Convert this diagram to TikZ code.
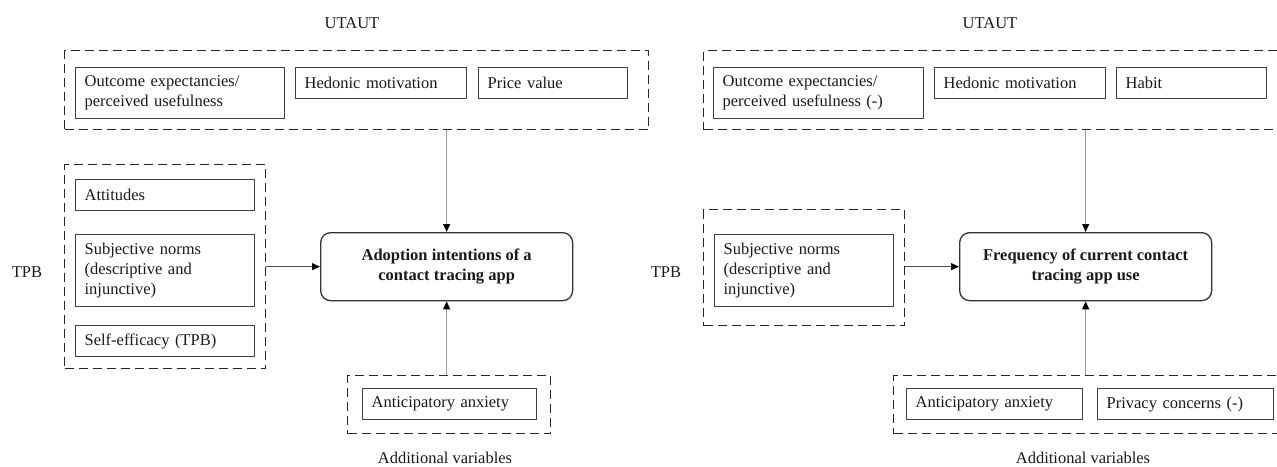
\documentclass[tikz,border=0pt]{standalone}
\usepackage{fontspec}
\setmainfont{Liberation Serif}
\usetikzlibrary{arrows.meta}
\begin{document}
\begin{tikzpicture}[x=1pt,y=-1pt,
  every node/.style={font=\fontsize{16.5}{20}\selectfont, text=black!90},
  item/.style={rectangle, draw=black!75, line width=1.2pt, anchor=north west, inner xsep=9pt, inner ysep=0pt, align=left},
  group/.style={rectangle, draw=black!85, line width=1.3pt, dash pattern=on 9pt off 5pt, anchor=north west, inner sep=0pt},
  target/.style={rectangle, draw=black!80, line width=1.3pt, rounded corners=10pt, minimum width=252pt, minimum height=68pt, anchor=north west, align=center, inner sep=0pt, font=\fontsize{16.5}{20}\selectfont\bfseries},
  label/.style={inner sep=0pt},
  garrow/.style={draw=black!40, line width=1pt, -{Triangle[length=8pt,width=7pt,black]}},
  darrow/.style={draw=black!70, line width=1pt, -{Triangle[length=8pt,width=7pt,black]}}
]
\clip (0,0) rectangle (1277,466);

% ---------- left panel ----------
\node[label] (utautL) at (352,23) {UTAUT};
\node[group, minimum width=584pt, minimum height=79pt] (utL) at (64,50) {};
\node[item, minimum width=209pt, minimum height=51pt, text width=191pt] (oeL) at (75,67) {Outcome expectancies/\\perceived usefulness};
\node[item, minimum width=171pt, minimum height=31pt, text width=153pt] (hmL) at (295,67) {Hedonic motivation};
\node[item, minimum width=149pt, minimum height=31pt, text width=131pt] (pvL) at (478,67) {Price value};

\node[label] (tpbL) at (27,272) {TPB};
\node[group, minimum width=201pt, minimum height=204pt] (tpL) at (64,164) {};
\node[item, minimum width=179pt, minimum height=31pt, text width=161pt] (atL) at (75,179) {Attitudes};
\node[item, minimum width=179pt, minimum height=72pt, text width=161pt] (snL) at (75,234) {Subjective norms\\(descriptive and\\injunctive)};
\node[item, minimum width=179pt, minimum height=31pt, text width=161pt] (seL) at (75,325) {Self-efficacy (TPB)};

\node[target] (mainL) at (320,232) {Adoption intentions of a\\contact tracing app};

\node[group, minimum width=203pt, minimum height=58pt] (adL) at (347,375) {};
\node[item, minimum width=174pt, minimum height=31pt, text width=156pt] (aaL) at (362,388) {Anticipatory anxiety};
\node[label] (avL) at (445,458) {Additional variables};

\draw[garrow] (mainL.north |- utL.south) -- (mainL.north);
\draw[darrow] (tpL.east |- mainL.west) -- (mainL.west);
\draw[garrow] (mainL.south |- adL.north) -- (mainL.south);

% ---------- right panel ----------
\node[label] (utautR) at (990,23) {UTAUT};
\node[group, minimum width=590pt, minimum height=79pt] (utR) at (703,50) {};
\node[item, minimum width=210pt, minimum height=51pt, text width=192pt] (oeR) at (713,67) {Outcome expectancies/\\perceived usefulness (-)};
\node[item, minimum width=171pt, minimum height=31pt, text width=153pt] (hmR) at (934,67) {Hedonic motivation};
\node[item, minimum width=150pt, minimum height=31pt, text width=132pt] (hbR) at (1116,67) {Habit};

\node[label] (tpbR) at (666,272) {TPB};
\node[group, minimum width=201pt, minimum height=116pt] (tpR) at (703,209) {};
\node[item, minimum width=179pt, minimum height=72pt, text width=161pt] (snR) at (714,234) {Subjective norms\\(descriptive and\\injunctive)};

\node[target] (mainR) at (959,232) {Frequency of current contact\\tracing app use};

\node[group, minimum width=400pt, minimum height=58pt] (adR) at (893,375) {};
\node[item, minimum width=176pt, minimum height=31pt, text width=158pt] (aaR) at (906,388) {Anticipatory anxiety};
\node[item, minimum width=176pt, minimum height=31pt, text width=158pt] (pcR) at (1097,388) {Privacy concerns (-)};
\node[label] (avR) at (1083,458) {Additional variables};

\draw[garrow] (mainR.north |- utR.south) -- (mainR.north);
\draw[darrow] (tpR.east |- mainR.west) -- (mainR.west);
\draw[garrow] (mainR.south |- adR.north) -- (mainR.south);
\end{tikzpicture}
\end{document}
